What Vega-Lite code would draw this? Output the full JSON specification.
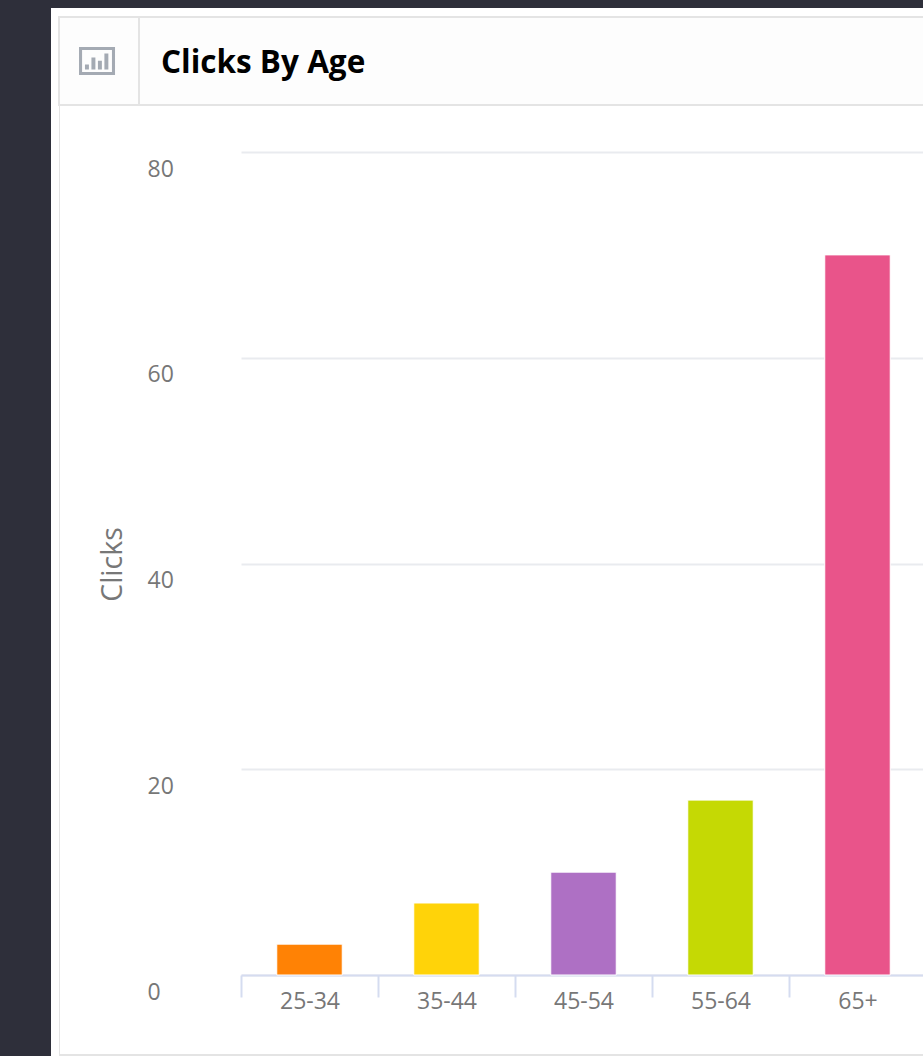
{
  "$schema": "https://vega.github.io/schema/vega-lite/v6.json",
  "background": "#ffffff",
  "padding": 0,
  "data": {"values": [
    {"age": "25-34", "clicks": 3},
    {"age": "35-44", "clicks": 7},
    {"age": "45-54", "clicks": 10},
    {"age": "55-64", "clicks": 17},
    {"age": "65+", "clicks": 70}
  ]},
  "config": {
    "view": {"stroke": null, "fill": null},
    "font": "Open Sans"
  },
  "spacing": 0,
  "bounds": "full",
  "vconcat": [
    {"width": 926, "height": 6, "view": {"fill": "#2e2f3a", "stroke": "#2e2f3a", "strokeWidth": 2}, "mark": {"type": "point", "opacity": 0, "size": 0}, "encoding": {}},
    {
      "spacing": 0,
      "bounds": "full",
      "hconcat": [
        {"width": 49, "height": 1046, "view": {"fill": "#2e2f3a", "stroke": "#2e2f3a", "strokeWidth": 2}, "mark": {"type": "point", "opacity": 0, "size": 0}, "encoding": {}},
        {"width": 7, "height": 1046, "mark": {"type": "point", "opacity": 0, "size": 0}, "encoding": {}},
        {
          "spacing": 0,
          "bounds": "full",
          "vconcat": [
            {"width": 865, "height": 7, "mark": {"type": "point", "opacity": 0, "size": 0}, "encoding": {}},
            {
              "spacing": 0,
              "bounds": "flush",
              "hconcat": [
                {
                  "width": 80,
                  "height": 88,
                  "view": {"fill": "#fdfdfd", "stroke": "#e4e4e4", "strokeWidth": 2},
                  "mark": {
                    "type": "point",
                    "shape": "M-1.11 -.78H.89V.78H-1.11Z M-.94 -.61V.61H.72V-.61Z M-.78 .47H-.56V.2H-.78Z M-.42 .47H-.2V-.2H-.42Z M-.06 .47H.16V-.02H-.06Z M.3 .47H.52V-.42H.3Z",
                    "size": 1296,
                    "filled": true,
                    "fill": "#a4aab3",
                    "strokeWidth": 0,
                    "opacity": 1
                  },
                  "transform": [{"filter": "datum.age === '65+'"}],
                  "encoding": {}
                },
                {
                  "width": 785,
                  "height": 88,
                  "view": {"fill": "#fdfdfd", "stroke": "#e4e4e4", "strokeWidth": 2},
                  "title": {
                    "text": "Clicks By Age",
                    "anchor": "start",
                    "orient": "top",
                    "offset": 0,
                    "dx": 22,
                    "dy": 78,
                    "baseline": "middle",
                    "font": "Open Sans",
                    "fontSize": 31.5,
                    "fontWeight": "bold",
                    "color": "#000000"
                  },
                  "mark": {"type": "point", "opacity": 0, "size": 0},
                  "encoding": {}
                }
              ]
            },
            {
              "spacing": 0,
              "bounds": "full",
              "hconcat": [
                {"width": 1, "height": 952, "view": {"fill": "#e4e4e4"}, "mark": {"type": "point", "opacity": 0, "size": 0}, "encoding": {}},
                {
                  "spacing": 0,
                  "bounds": "full",
                  "vconcat": [
                    {"width": 866, "height": 46, "mark": {"type": "point", "opacity": 0, "size": 0}, "encoding": {}},
                    {
                      "spacing": 0,
                      "bounds": "flush",
                      "hconcat": [
                        {"width": 181, "height": 823, "mark": {"type": "point", "opacity": 0, "size": 0}, "encoding": {}},
                        {
                          "width": 685,
                          "height": 823,
                          "mark": {"type": "bar", "stroke": "#ffffff", "strokeWidth": 1, "width": {"band": 0.478}},
                          "encoding": {
                            "x": {
                              "field": "age",
                              "type": "nominal",
                              "sort": null,
                              "scale": {"paddingInner": 0, "paddingOuter": 0},
                              "axis": {
                                "title": null,
                                "labelAngle": 0,
                                "labelFont": "Open Sans",
                                "labelFontSize": 23,
                                "labelColor": "#777777",
                                "labelPadding": 4,
                                "labelBaseline": "middle",
                                "tickBand": "extent",
                                "tickSize": 22,
                                "tickWidth": 2,
                                "tickColor": "#d5dcf0",
                                "domainColor": "#d5dcf0",
                                "domainWidth": 2,
                                "grid": false
                              }
                            },
                            "y": {
                              "field": "clicks",
                              "type": "quantitative",
                              "scale": {"domain": [0, 80], "nice": false},
                              "axis": {
                                "title": "Clicks",
                                "titleFont": "Open Sans",
                                "titleFontSize": 28.5,
                                "titleFontWeight": "normal",
                                "titleColor": "#777777",
                                "titleX": -129,
                                "titleY": 412,
                                "titleAlign": "center",
                                "titleBaseline": "middle",
                                "values": [0, 20, 40, 60, 80],
                                "labelFont": "Open Sans",
                                "labelFontSize": 23,
                                "labelColor": "#777777",
                                "labelAlign": "left",
                                "labelBaseline": "middle",
                                "labelPadding": 94,
                                "labelOffset": 17,
                                "ticks": false,
                                "tickSize": 0,
                                "domain": false,
                                "grid": true,
                                "gridColor": "#e9ebef",
                                "gridWidth": 2
                              }
                            },
                            "color": {
                              "field": "age",
                              "type": "nominal",
                              "legend": null,
                              "scale": {
                                "domain": ["25-34", "35-44", "45-54", "55-64", "65+"],
                                "range": ["#ff8205", "#ffd309", "#ae70c4", "#c5d904", "#e9548a"]
                              }
                            }
                          }
                        }
                      ]
                    },
                    {"width": 866, "height": 41, "mark": {"type": "point", "opacity": 0, "size": 0}, "encoding": {}},
                    {"width": 866, "height": 2, "view": {"fill": "#e4e4e4"}, "mark": {"type": "point", "opacity": 0, "size": 0}, "encoding": {}}
                  ]
                }
              ]
            }
          ]
        }
      ]
    }
  ]
}
